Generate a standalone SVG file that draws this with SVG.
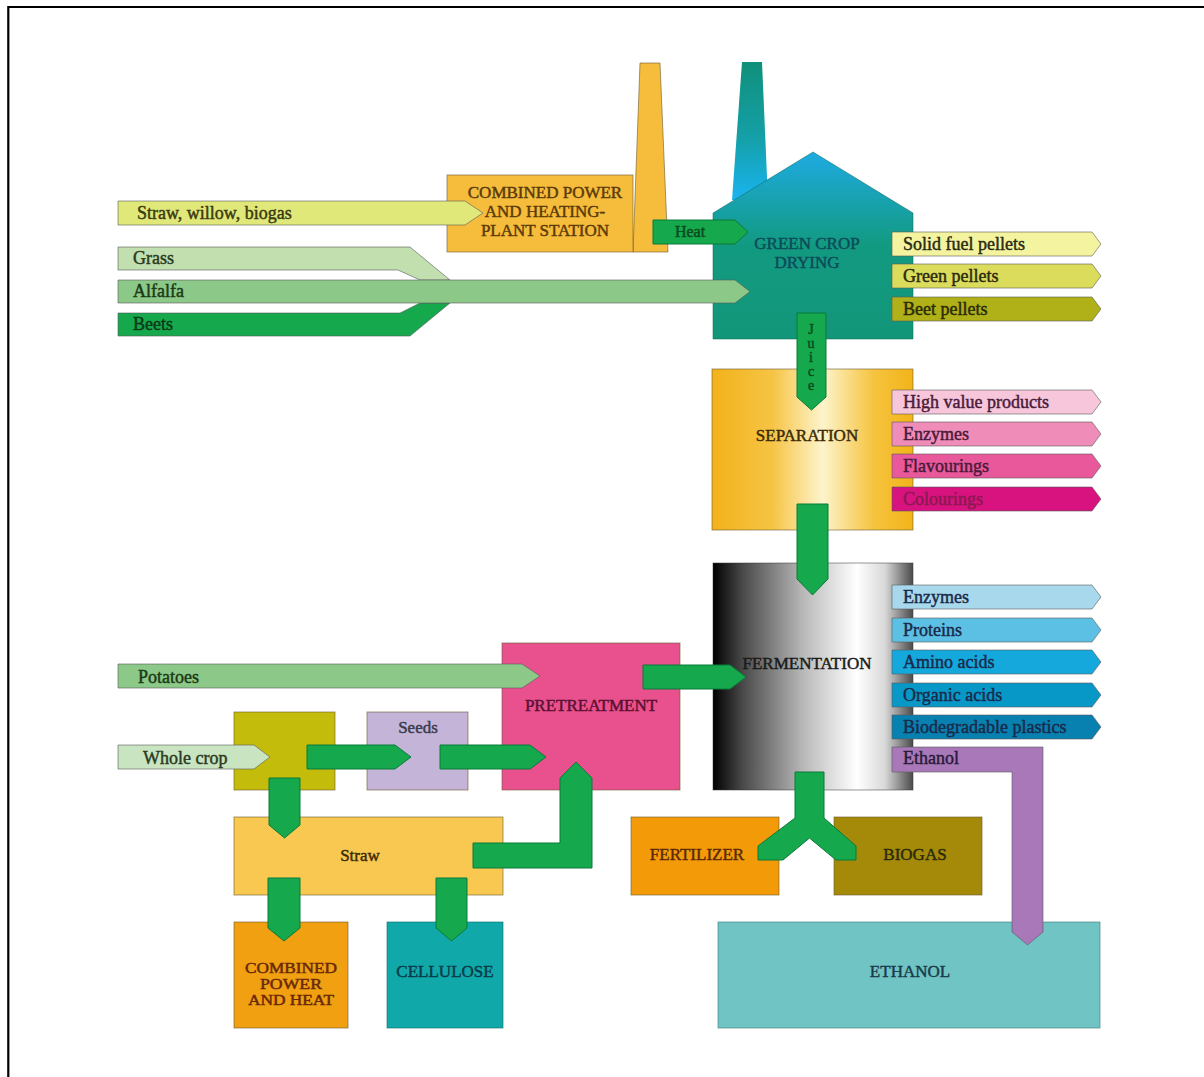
<svg xmlns="http://www.w3.org/2000/svg" width="1204" height="1077" viewBox="0 0 1204 1077">
<style>
text{font-family:"Liberation Serif","DejaVu Serif",serif;fill:currentColor;stroke:currentColor;stroke-width:0.45;}
.lbl{font-size:18px;}
.cap{font-size:17px;text-anchor:middle;}
.sm{font-size:14px;text-anchor:middle;}
.ga{fill:#15a84c;stroke:#0b7a3a;stroke-width:1;}
.bx{stroke:#6a5a30;stroke-width:1;stroke-opacity:0.6;}
.pa{stroke:#5a5a5a;stroke-width:1;stroke-opacity:0.6;}
</style>
<defs>
<linearGradient id="gChim" x1="0" y1="0" x2="0" y2="1">
<stop offset="0" stop-color="#10907a"/><stop offset="0.55" stop-color="#14a0a8"/><stop offset="1" stop-color="#1ab4f0"/>
</linearGradient>
<linearGradient id="gHouse" x1="0" y1="152" x2="0" y2="339" gradientUnits="userSpaceOnUse">
<stop offset="0" stop-color="#1eaae2"/><stop offset="0.5" stop-color="#129a80"/><stop offset="1" stop-color="#12967a"/>
</linearGradient>
<linearGradient id="gSep" x1="0" y1="0" x2="1" y2="0">
<stop offset="0" stop-color="#f2b21a"/><stop offset="0.3" stop-color="#f6c444"/><stop offset="0.55" stop-color="#fdf4cc"/><stop offset="0.8" stop-color="#f6c440"/><stop offset="1" stop-color="#f2b418"/>
</linearGradient>
<linearGradient id="gFer" x1="0" y1="0" x2="1" y2="0">
<stop offset="0" stop-color="#000"/><stop offset="0.15" stop-color="#4a4a4a"/><stop offset="0.45" stop-color="#b8b8b8"/><stop offset="0.72" stop-color="#fff"/><stop offset="0.86" stop-color="#d8d8d8"/><stop offset="1" stop-color="#4a4a4a"/>
</linearGradient>
</defs>
<rect width="1204" height="1077" fill="#fff"/>
<path d="M8.3,1077 V7 H1204" fill="none" stroke="#000" stroke-width="2.2"/>

<g id="chp-station">
<polygon points="640,63 660,63 668,252 633,252" fill="#f6bc3c" class="bx"/>
<rect x="447" y="175" width="186" height="77" fill="#f6bc3c" class="bx"/>
<text class="cap" x="545" y="198" color="#5a3a08">COMBINED POWER</text>
<text class="cap" x="545" y="217" color="#5a3a08">AND HEATING-</text>
<text class="cap" x="545" y="236" color="#5a3a08">PLANT STATION</text>
</g>

<g id="green-crop-drying">
<polygon points="742,62 762,62 768,200 732,200" fill="url(#gChim)"/>
<polygon points="813,152 913,213 913,339 713,339 713,213" fill="url(#gHouse)" stroke="#0a6a5a" stroke-width="1" stroke-opacity="0.5"/>
<text class="cap" x="807" y="249" color="#0d4a5a">GREEN CROP</text>
<text class="cap" x="807" y="268" color="#0d4a5a">DRYING</text>
</g>

<g id="inputs-top">
<polygon points="118,201 465,201 483,213 465,225 118,225" fill="#e0e87a" class="pa"/>
<text class="lbl" x="137" y="219" color="#3a3a10">Straw, willow, biogas</text>
<polygon points="118,247 410,247 450,280 420,280 398,270 118,270" fill="#c2dfb0" class="pa"/>
<text class="lbl" x="133" y="264" color="#2a3a20">Grass</text>
<polygon points="118,313 400,313 420,303 450,303 410,336 118,336" fill="#16a84c" class="pa"/>
<text class="lbl" x="133" y="330" color="#0a3a15">Beets</text>
<polygon points="118,280 735,280 750,291.5 735,303 118,303" fill="#8cc888" class="pa"/>
<text class="lbl" x="133" y="297" color="#1a3a15">Alfalfa</text>
</g>

<g id="drying-products">
<path d="M892,232 H1092 L1101,244 L1092,256 H892 Z" fill="#f4f4a0" class="pa"/>
<text class="lbl" x="903" y="250" color="#2a2a10">Solid fuel pellets</text>
<path d="M892,264 H1092 L1101,276 L1092,288 H892 Z" fill="#dcdc5c" class="pa"/>
<text class="lbl" x="903" y="282" color="#2a2a10">Green pellets</text>
<path d="M892,297 H1092 L1101,309 L1092,321 H892 Z" fill="#b0b018" class="pa"/>
<text class="lbl" x="903" y="315" color="#2a2a08">Beet pellets</text>
</g>

<g id="separation">
<rect x="712" y="369" width="201" height="161" fill="url(#gSep)" class="bx"/>
<text class="cap" x="807" y="441" color="#3a2a08">SEPARATION</text>
</g>

<g id="separation-products">
<path d="M892,390 H1092 L1101,402 L1092,414 H892 Z" fill="#f7c6da" class="pa"/>
<text class="lbl" x="903" y="408" color="#4a1a3a">High value products</text>
<path d="M892,422 H1092 L1101,434 L1092,446 H892 Z" fill="#f08cb8" class="pa"/>
<text class="lbl" x="903" y="440" color="#4a1a3a">Enzymes</text>
<path d="M892,454 H1092 L1101,466 L1092,478 H892 Z" fill="#e8589a" class="pa"/>
<text class="lbl" x="903" y="472" color="#4a1a3a">Flavourings</text>
<path d="M892,487 H1092 L1101,499 L1092,511 H892 Z" fill="#d8127e" class="pa"/>
<text class="lbl" x="903" y="505" color="#8a1a50">Colourings</text>
</g>

<g id="fermentation">
<rect x="713" y="563" width="200" height="227" fill="url(#gFer)" stroke="#333" stroke-width="1" stroke-opacity="0.5"/>
<text class="cap" x="807" y="669" color="#1a1a1a">FERMENTATION</text>
</g>

<g id="fermentation-products">
<path d="M892,585 H1092 L1101,597 L1092,609 H892 Z" fill="#a8d8ec" class="pa"/>
<text class="lbl" x="903" y="603" color="#1a2a4a">Enzymes</text>
<path d="M892,618 H1092 L1101,630 L1092,642 H892 Z" fill="#5cc0e4" class="pa"/>
<text class="lbl" x="903" y="636" color="#1a2a4a">Proteins</text>
<path d="M892,650 H1092 L1101,662 L1092,674 H892 Z" fill="#14a8dc" class="pa"/>
<text class="lbl" x="903" y="668" color="#1a2a4a">Amino acids</text>
<path d="M892,683 H1092 L1101,695 L1092,707 H892 Z" fill="#0898c8" class="pa"/>
<text class="lbl" x="903" y="701" color="#1a2a4a">Organic acids</text>
<path d="M892,715 H1092 L1101,727 L1092,739 H892 Z" fill="#0880b0" class="pa"/>
<text class="lbl" x="903" y="733" color="#1a2a4a">Biodegradable plastics</text>
</g>

<g id="fertilizer">
<rect x="631" y="817" width="148" height="78" fill="#f39a08" class="bx"/>
<text class="cap" x="697" y="860" color="#5a2a08">FERTILIZER</text>
</g>
<g id="biogas">
<rect x="834" y="817" width="148" height="78" fill="#a58a0a" class="bx"/>
<text class="cap" x="915" y="860" color="#2a2a0a">BIOGAS</text>
</g>
<g id="ethanol">
<rect x="718" y="922" width="382" height="106" fill="#70c4c4" stroke="#3a7a7a" stroke-width="1" stroke-opacity="0.6"/>
<text class="cap" x="910" y="977" color="#1a3a4a">ETHANOL</text>
</g>

<g id="ethanol-output">
<path d="M892,747 H1043 V932 L1027.5,945 L1012,932 V772 H892 Z" fill="#a878b8" class="pa"/>
<text class="lbl" x="903" y="764" color="#2a1a3a">Ethanol</text>
</g>

<g id="pretreatment">
<rect x="502" y="643" width="178" height="147" fill="#e8508e" class="bx"/>
<text class="cap" x="591" y="711" color="#5a1030">PRETREATMENT</text>
</g>
<g id="whole-crop-box">
<rect x="234" y="712" width="101" height="78" fill="#c4bc0a" class="bx"/>
</g>
<g id="seeds">
<rect x="367" y="712" width="101" height="78" fill="#c4b4d8" class="bx"/>
<text class="cap" x="418" y="733" color="#3a3a4a">Seeds</text>
</g>
<g id="straw">
<rect x="234" y="817" width="269" height="78" fill="#f8c850" class="bx"/>
<text class="cap" x="360" y="861" color="#3a2a08">Straw</text>
</g>
<g id="chp">
<rect x="234" y="922" width="114" height="106" fill="#f0a010" class="bx"/>
<text class="sm" x="291" y="973" color="#6a2808" textLength="92" lengthAdjust="spacingAndGlyphs">COMBINED</text>
<text class="sm" x="291" y="989" color="#6a2808" textLength="62" lengthAdjust="spacingAndGlyphs">POWER</text>
<text class="sm" x="291" y="1005" color="#6a2808" textLength="86" lengthAdjust="spacingAndGlyphs">AND HEAT</text>
</g>
<g id="cellulose">
<rect x="387" y="922" width="116" height="106" fill="#10a8a8" stroke="#0a6a6a" stroke-width="1" stroke-opacity="0.6"/>
<text class="cap" x="445" y="977" color="#0a3a4a">CELLULOSE</text>
</g>

<g id="inputs-bottom">
<polygon points="118,664 522,664 540,676 522,688 118,688" fill="#8cc888" class="pa"/>
<text class="lbl" x="138" y="683" color="#1a3a15">Potatoes</text>
<polygon points="118,745 254,745 270,757 254,769 118,769" fill="#c8e4c0" class="pa"/>
<text class="lbl" x="143" y="764" color="#2a3a20">Whole crop</text>
</g>

<g id="connectors">
<polygon class="ga" points="653,220 735,220 748,232 735,244 653,244"/>
<text x="690" y="237" font-size="16" text-anchor="middle" color="#0a4a20">Heat</text>
<polygon class="ga" points="797,313 826,313 826,397 811.5,410 797,397"/>
<g font-size="14" text-anchor="middle" color="#0a4a20">
<text x="811" y="334">J</text><text x="811" y="348">u</text><text x="811" y="362">i</text><text x="811" y="376">c</text><text x="811" y="390">e</text>
</g>
<polygon class="ga" points="797,504 828,504 828,579 812.5,595 797,579"/>
<polygon class="ga" points="643,665 730,665 746,677 730,689 643,689"/>
<polygon class="ga" points="795,772 824,772 824,818 856,846 856,860 836,860 809.5,838 783,860 758,860 758,846 795,818"/>
<polygon class="ga" points="307,745 395,745 411,757 395,769 307,769"/>
<polygon class="ga" points="440,745 530,745 546,757 530,769 440,769"/>
<polygon class="ga" points="269,778 300,778 300,825 284.5,838 269,825"/>
<path class="ga" d="M473,843 H560 V778 L576,762 L592,778 V868 H473 Z"/>
<polygon class="ga" points="268,878 300,878 300,928 284,941 268,928"/>
<polygon class="ga" points="436,878 467,878 467,928 451.5,941 436,928"/>
</g>
</svg>
